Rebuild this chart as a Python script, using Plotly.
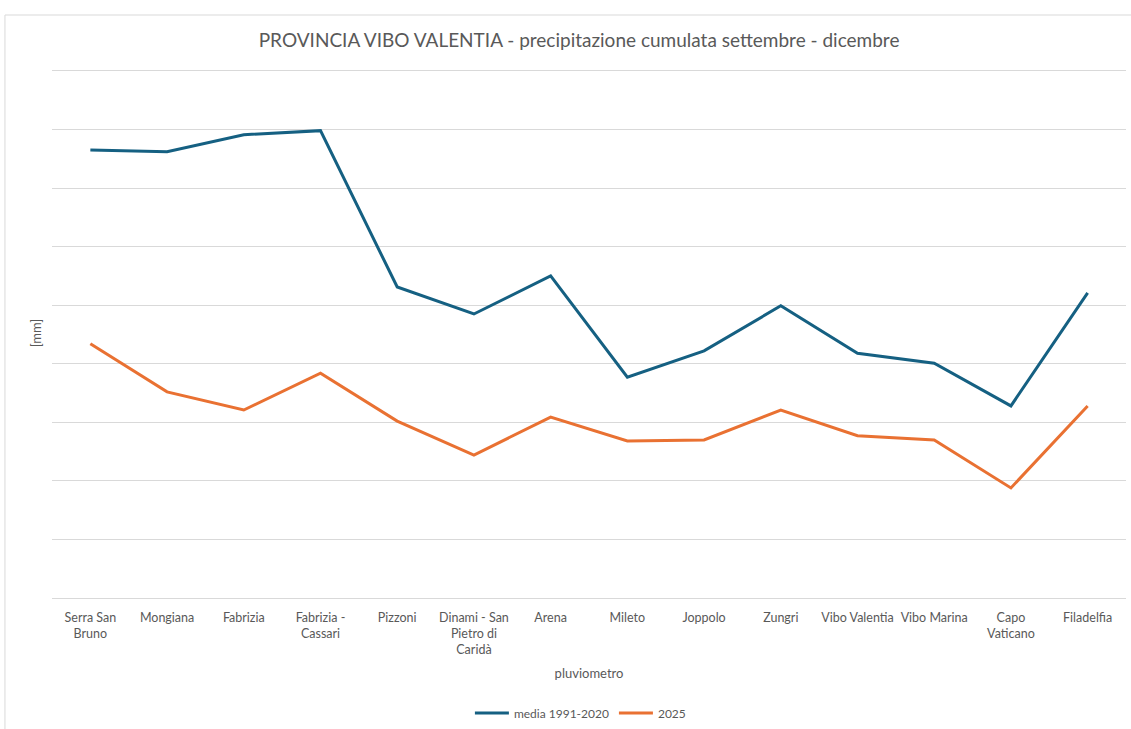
import plotly.graph_objects as go

stations = ["Serra San Bruno", "Mongiana", "Fabrizia", "Fabrizia - Cassari", "Pizzoni",
            "Dinami - San Pietro di Caridà", "Arena", "Mileto", "Joppolo", "Zungri",
            "Vibo Valentia", "Vibo Marina", "Capo Vaticano", "Filadelfia"]
tick_labels = ["Serra San<br>Bruno", "Mongiana", "Fabrizia", "Fabrizia -<br>Cassari", "Pizzoni",
               "Dinami - San<br>Pietro di<br>Caridà", "Arena", "Mileto", "Joppolo", "Zungri",
               "Vibo Valentia", "Vibo Marina", "Capo<br>Vaticano", "Filadelfia"]
media_1991_2020 = [765, 762, 791, 798, 531, 485, 550, 377, 422, 499, 418, 401, 328, 521]
val_2025 = [434, 352, 321, 384, 302, 244, 309, 268, 270, 321, 277, 270, 188, 328]

BLUE = "#156082"
ORANGE = "#E97132"
GRID = "#d9d9d9"
TXT = "#595959"
FONT = "Lato"

fig = go.Figure()
fig.add_trace(go.Scatter(x=stations, y=media_1991_2020, mode="lines", name="media 1991-2020",
                         line=dict(color=BLUE, width=3)))
fig.add_trace(go.Scatter(x=stations, y=val_2025, mode="lines", name="2025",
                         line=dict(color=ORANGE, width=3)))

fig.update_layout(
    width=1131, height=729,
    paper_bgcolor="white", plot_bgcolor="white",
    margin=dict(l=52, r=5, t=68, b=131, autoexpand=False),
    font=dict(family=FONT, color=TXT, size=12),
    title=dict(text="PROVINCIA VIBO VALENTIA - precipitazione cumulata settembre - dicembre",
               x=0.512, xanchor="center", y=0.945, yanchor="middle",
               font=dict(size=19, color=TXT, family=FONT)),
    showlegend=True,
    legend=dict(orientation="h", x=0.492, xanchor="center", y=-0.217, yanchor="middle",
                font=dict(size=12, color=TXT), itemwidth=34),
    xaxis=dict(type="category", tickmode="array", tickvals=stations, ticktext=tick_labels,
               range=[-0.5, 13.5], showgrid=False, showline=False, ticks="",
               ticklabelstandoff=10, automargin=False,
               tickfont=dict(size=12.5, color=TXT),
               title=dict(text="pluviometro", font=dict(size=13, color=TXT), standoff=12)),
    yaxis=dict(range=[0, 905], dtick=100, showticklabels=False, showgrid=True,
               gridcolor=GRID, gridwidth=1, zeroline=True, zerolinecolor=GRID, zerolinewidth=1,
               ticks="", automargin=False,
               title=dict(text="[mm]", font=dict(size=13, color=TXT), standoff=6)),
    shapes=[dict(type="rect", xref="paper", yref="paper",
                 x0=-0.0438, x1=1.01, y0=-0.3, y1=1.1,
                 line=dict(color=GRID, width=1), fillcolor="rgba(0,0,0,0)", layer="below")],
)

fig.write_html("out.html", config={"displayModeBar": False},
               post_script="document.body.style.margin='0';")
